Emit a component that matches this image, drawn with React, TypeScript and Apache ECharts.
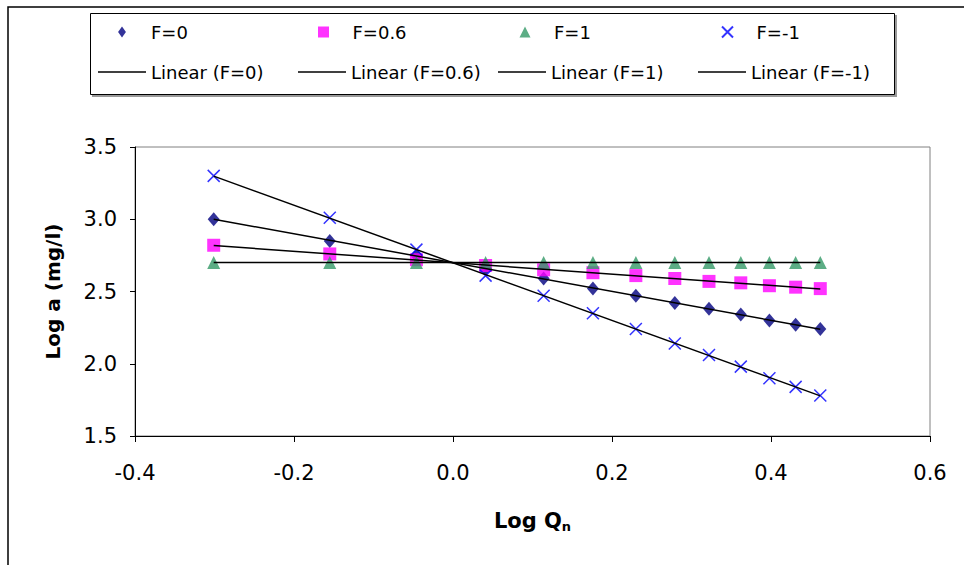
import React, { useEffect, useRef } from "react";
import * as echarts from "echarts";

const logQ = [-0.301, -0.155, -0.046, 0.041, 0.114, 0.176, 0.23, 0.279, 0.322, 0.362, 0.398, 0.431, 0.462];
const yF0 = [3.0, 2.85, 2.75, 2.66, 2.59, 2.52, 2.47, 2.42, 2.38, 2.34, 2.3, 2.27, 2.24];
const yF06 = [2.82, 2.76, 2.72, 2.68, 2.65, 2.63, 2.61, 2.59, 2.57, 2.56, 2.54, 2.53, 2.52];
const yF1 = [2.7, 2.7, 2.7, 2.7, 2.7, 2.7, 2.7, 2.7, 2.7, 2.7, 2.7, 2.7, 2.7];
const yFm1 = [3.3, 3.01, 2.79, 2.61, 2.47, 2.35, 2.24, 2.14, 2.06, 1.98, 1.9, 1.84, 1.78];

const seriesNames = ["F=0", "F=0.6", "F=1", "F=-1"];
const trendNames = ["Linear (F=0)", "Linear (F=0.6)", "Linear (F=1)", "Linear (F=-1)"];
const xTicks = { min: -0.4, max: 0.6, interval: 0.2 };
const yTicks = { min: 1.5, max: 3.5, interval: 0.5 };

const FONT = "'DejaVu Sans', 'Liberation Sans', Arial, sans-serif";

function fit(xs: number[], ys: number[]) {
  const n = xs.length;
  const mx = xs.reduce((a, b) => a + b, 0) / n;
  const my = ys.reduce((a, b) => a + b, 0) / n;
  let sxy = 0, sxx = 0;
  for (let i = 0; i < n; i++) {
    sxy += (xs[i] - mx) * (ys[i] - my);
    sxx += (xs[i] - mx) * (xs[i] - mx);
  }
  const b = sxy / sxx;
  const a = my - b * mx;
  const x0 = Math.min(...xs), x1 = Math.max(...xs);
  return [[x0, a + b * x0], [x1, a + b * x1]];
}

export default function App() {
  const ref = useRef<HTMLDivElement>(null);
  useEffect(() => {
    if (!ref.current) return;
    const chart = echarts.init(ref.current, null, { renderer: "svg" });
    const ys = [yF0, yF06, yF1, yFm1];
    const symbols = [
      "path://M5,0L10,7L5,14L0,7Z",
      "path://M0,0H10V10H0Z",
      "path://M5,0L10,10H0Z",
      "path://M0,0L10,10M10,0L0,10",
    ];
    const colors = ["#000080", "#FF00FF", "#339966", "#0000FF"];
    const sizes = [[12, 14], 13, 13, 12];
    const scatter = ys.map((y, i) => ({
      name: seriesNames[i],
      type: "scatter",
      symbol: symbols[i],
      symbolSize: sizes[i],
      data: logQ.map((x, j) => [x, y[j]]),
      itemStyle:
        i === 3
          ? { color: colors[i], borderColor: colors[i], borderWidth: 1.5 }
          : { color: colors[i] },
      z: 2,
    }));
    const trends = ys.map((y, i) => ({
      name: trendNames[i],
      type: "line",
      symbol: "none",
      data: fit(logQ, y),
      lineStyle: { color: "#000", width: 1.5 },
      itemStyle: { color: "#000" },
      z: 3,
    }));
    chart.setOption({
      animation: false,
      backgroundColor: "#fff",
      graphic: [
        {
          type: "rect",
          shape: { x: 8, y: 7, width: 1200, height: 1200 },
          style: { fill: "none", stroke: "#000", lineWidth: 1.5 },
          z: 0,
        },
        {
          type: "rect",
          shape: { x: 92, y: 15, width: 805, height: 82 },
          style: { fill: "#999", stroke: "none" },
          z: 0,
        },
        {
          type: "rect",
          shape: { x: 90.5, y: 13.5, width: 804, height: 81 },
          style: { fill: "#fff", stroke: "#000", lineWidth: 1 },
          z: 1,
        },
      ],
      legend: {
        left: 98,
        top: 12,
        width: 860,
        padding: 0,
        itemGap: 0,
        itemWidth: 48,
        itemHeight: 11,
        symbolKeepAspect: true,
        textStyle: { fontFamily: FONT, fontSize: 18, color: "#000", width: 147, lineHeight: 40 },
        data: [
          ...seriesNames.map((n, i) => ({
            name: n,
            icon: symbols[i],
            textStyle: { fontFamily: FONT, fontSize: 18, color: "#000", width: 167, lineHeight: 40 },
          })),
          ...trendNames.map((n) => ({
            name: n,
            icon: "path://M0,0H48V1.5H0Z",
            itemStyle: { color: "#000", borderWidth: 0 },
          })),
        ],
      },
      grid: {
        left: 135,
        right: 34,
        top: 147,
        bottom: 129,
        show: true,
        borderColor: "#808080",
        borderWidth: 1,
        backgroundColor: "#fff",
      },
      xAxis: {
        type: "value",
        min: xTicks.min,
        max: xTicks.max,
        interval: xTicks.interval,
        name: "Log Q{s|n}",
        nameLocation: "middle",
        nameGap: 72,
        nameTextStyle: {
          fontFamily: FONT,
          fontSize: 21,
          fontWeight: "bold",
          color: "#000",
          rich: {
            s: { fontFamily: FONT, fontSize: 13, fontWeight: "bold", color: "#000", padding: [12, 0, 0, 0] },
          },
        },
        axisLine: { onZero: false, lineStyle: { color: "#000", width: 1 } },
        axisTick: { inside: false, length: 6, lineStyle: { color: "#000" } },
        splitLine: { show: false },
        axisLabel: {
          fontFamily: FONT,
          fontSize: 21,
          color: "#000",
          margin: 26,
          formatter: (v: number) => v.toFixed(1),
        },
      },
      yAxis: {
        type: "value",
        min: yTicks.min,
        max: yTicks.max,
        interval: yTicks.interval,
        name: "Log a (mg/l)",
        nameLocation: "middle",
        nameGap: 72,
        nameTextStyle: { fontFamily: FONT, fontSize: 20, fontWeight: "bold", color: "#000" },
        axisLine: { onZero: false, lineStyle: { color: "#000", width: 1 } },
        axisTick: { inside: false, length: 5, lineStyle: { color: "#000" } },
        splitLine: { show: false },
        axisLabel: {
          fontFamily: FONT,
          fontSize: 21,
          color: "#000",
          margin: 18,
          formatter: (v: number) => v.toFixed(1),
        },
      },
      series: [...scatter, ...trends],
    });
    return () => chart.dispose();
  }, []);
  return (
    <div
      ref={ref}
      style={{ position: "absolute", left: 0, top: 0, width: 964, height: 565 }}
    />
  );
}
